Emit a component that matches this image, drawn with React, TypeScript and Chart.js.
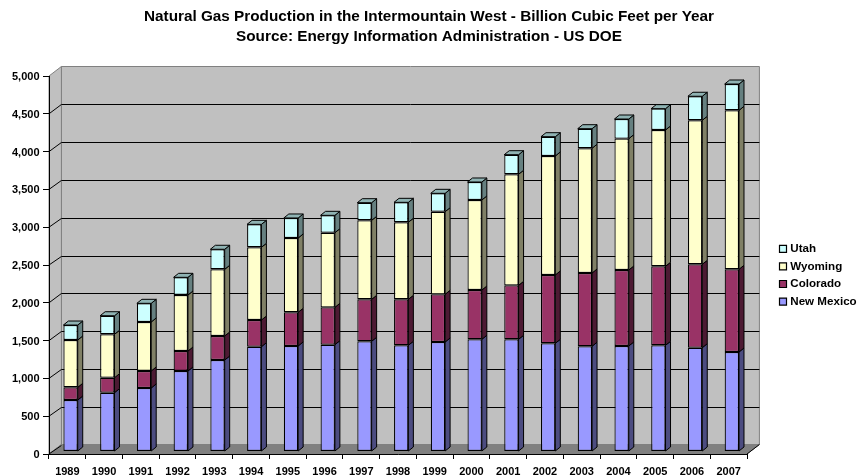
import React, { useEffect, useRef } from "react";
import { Chart, registerables } from "chart.js";

Chart.register(...registerables);

const years = ["1989","1990","1991","1992","1993","1994","1995","1996","1997","1998","1999","2000","2001","2002","2003","2004","2005","2006","2007"];
const newMexico = [681,778,840,1065,1210,1386,1396,1413,1458,1405,1448,1484,1484,1431,1392,1396,1405,1373,1316];
const colorado = [168,198,225,264,318,353,445,494,555,608,631,652,714,904,969,1005,1045,1103,1094];
const wyoming = [626,574,648,741,882,962,983,987,1045,1019,1093,1191,1469,1574,1650,1737,1803,1905,2103];
const utah = [198,246,247,234,265,304,265,230,233,264,243,238,259,255,259,260,282,318,348];
const titleLines = [
  "Natural Gas Production in the Intermountain West - Billion Cubic Feet per Year",
  "Source: Energy Information Administration - US DOE",
];

const FONT = "'Liberation Sans', Arial, sans-serif";
const WALL_DX = 12.4;
const WALL_DY = -9.5;
const BAR_DX = 3.2;
const BAR_DY = -2.5;
const SIDE_DX = 5;
const SIDE_DY = -4;
const sideColors = ["#4C4C80", "#4D1A33", "#808066", "#668080"];
const topColor = "#8FB3B3";

const poly = (ctx: CanvasRenderingContext2D, pts: number[][], fill: string, stroke: string, lw = 1) => {
  ctx.beginPath();
  pts.forEach(([x, y], i) => (i ? ctx.lineTo(x, y) : ctx.moveTo(x, y)));
  ctx.closePath();
  ctx.fillStyle = fill;
  ctx.fill();
  ctx.strokeStyle = stroke;
  ctx.lineWidth = lw;
  ctx.stroke();
};

const depthPlugin = {
  id: "depth",
  afterLayout(chart: any) {
    const lg = chart.legend;
    if (lg) {
      const w = lg.width;
      const h = lg.height;
      lg.left = 775.5;
      lg.right = 775.5 + w;
      lg.top = 237;
      lg.bottom = 237 + h;
    }
    const tb = chart.titleBlock;
    if (tb) {
      tb.left = 0;
      tb.right = 858;
    }
  },
  beforeDraw(chart: any) {
    const { ctx, chartArea: a, scales } = chart;
    const l = a.left, r = a.right, t = a.top, b = a.bottom;
    ctx.save();
    poly(ctx, [[l + WALL_DX, t + WALL_DY], [r + WALL_DX, t + WALL_DY], [r + WALL_DX, b + WALL_DY], [l + WALL_DX, b + WALL_DY]], "#C0C0C0", "#808080");
    poly(ctx, [[l, t], [l + WALL_DX, t + WALL_DY], [l + WALL_DX, b + WALL_DY], [l, b]], "#C0C0C0", "#808080");
    poly(ctx, [[l, b], [l + WALL_DX, b + WALL_DY], [r + WALL_DX, b + WALL_DY], [r, b]], "#808080", "#808080");
    ctx.strokeStyle = "#000000";
    ctx.lineWidth = 1;
    scales.y.ticks.forEach((tk: any) => {
      if (tk.value >= 5000) return;
      const y = scales.y.getPixelForValue(tk.value);
      const by = Math.round(y + WALL_DY) + 0.5;
      ctx.beginPath();
      ctx.moveTo(l, y);
      ctx.lineTo(l + WALL_DX, by);
      if (tk.value > 0) ctx.lineTo(r + WALL_DX, by);
      ctx.stroke();
    });
    ctx.beginPath();
    ctx.moveTo(r, b);
    ctx.lineTo(r + WALL_DX, b + WALL_DY);
    ctx.stroke();
    ctx.restore();
  },
  beforeDatasetsDraw(chart: any) {
    const { ctx } = chart;
    ctx.save();
    ctx.translate(BAR_DX, BAR_DY);
    const last = chart.data.datasets.length - 1;
    chart.data.datasets.forEach((_: any, di: number) => {
      chart.getDatasetMeta(di).data.forEach((el: any) => {
        const { x, y, base, width } = el.getProps(["x", "y", "base", "width"], true);
        const xl = x - width / 2;
        const xr = x + width / 2;
        poly(ctx, [[xr, y], [xr + SIDE_DX, y + SIDE_DY], [xr + SIDE_DX, base + SIDE_DY], [xr, base]], sideColors[di], "#000000", 1);
        if (di === last) {
          poly(ctx, [[xl, y], [xl + SIDE_DX, y + SIDE_DY], [xr + SIDE_DX, y + SIDE_DY], [xr, y]], topColor, "#000000", 1);
        }
      });
    });
  },
  afterDatasetsDraw(chart: any) {
    chart.ctx.restore();
  },
};

export default function App() {
  const ref = useRef<HTMLCanvasElement>(null);
  useEffect(() => {
    const bar = (label: string, data: number[], color: string) => ({
      label,
      data,
      backgroundColor: color,
      borderColor: "#000000",
      borderWidth: 1.2,
      borderSkipped: false,
      clip: false,
    });
    const chart = new Chart(ref.current!, {
      type: "bar",
      data: {
        labels: years,
        datasets: [
          bar("New Mexico", newMexico, "#9999FF"),
          bar("Colorado", colorado, "#993366"),
          bar("Wyoming", wyoming, "#FFFFCC"),
          bar("Utah", utah, "#CCFFFF"),
        ],
      },
      plugins: [depthPlugin],
      options: {
        responsive: false,
        animation: false,
        layout: { padding: { left: 0, right: 112, top: 0, bottom: 0 } },
        datasets: { bar: { barPercentage: 0.39, categoryPercentage: 1 } },
        scales: {
          x: {
            stacked: true,
            afterFit: (s: any) => { s.height = 22; },
            border: { display: true, color: "#000000", width: 1 },
            grid: { drawOnChartArea: false, drawTicks: true, tickLength: 5, tickColor: "#000000", color: "#000000" },
            ticks: { color: "#000000", padding: 6, maxRotation: 0, autoSkip: false, font: { family: FONT, size: 11, weight: "bold" } },
          },
          y: {
            stacked: true,
            min: 0,
            max: 5000,
            afterFit: (s: any) => { s.width = 49; },
            border: { display: true, color: "#000000", width: 1 },
            grid: { drawOnChartArea: false, drawTicks: true, tickLength: 6, tickColor: "#000000", color: "#000000" },
            ticks: {
              stepSize: 500,
              color: "#000000",
              padding: 3.5,
              labelOffset: 1,
              font: { family: FONT, size: 11, weight: "bold" },
              callback: (v: any) => Number(v).toLocaleString("en-US"),
            },
          },
        },
        plugins: {
          tooltip: { enabled: false },
          title: {
            display: true,
            text: titleLines,
            color: "#000000",
            font: { family: FONT, size: 15.3, weight: "bold", lineHeight: 20 / 15.3 },
            padding: { top: 7, bottom: 29 },
          },
          legend: {
            position: "chartArea",
            align: "start",
            reverse: true,
            onClick: undefined,
            labels: {
              color: "#000000",
              font: { family: FONT, size: 11.6, weight: "bold" },
              usePointStyle: true,
              pointStyle: "rect",
              boxWidth: 3,
              boxHeight: 7,
              padding: 6,
            },
          },
        },
      },
    } as any);
    return () => chart.destroy();
  }, []);
  return (
    <div style={{ position: "absolute", left: 0, top: 0, width: 859, height: 476 }}>
      <canvas ref={ref} width={859} height={476} style={{ display: "block", width: 859, height: 476 }} />
    </div>
  );
}
